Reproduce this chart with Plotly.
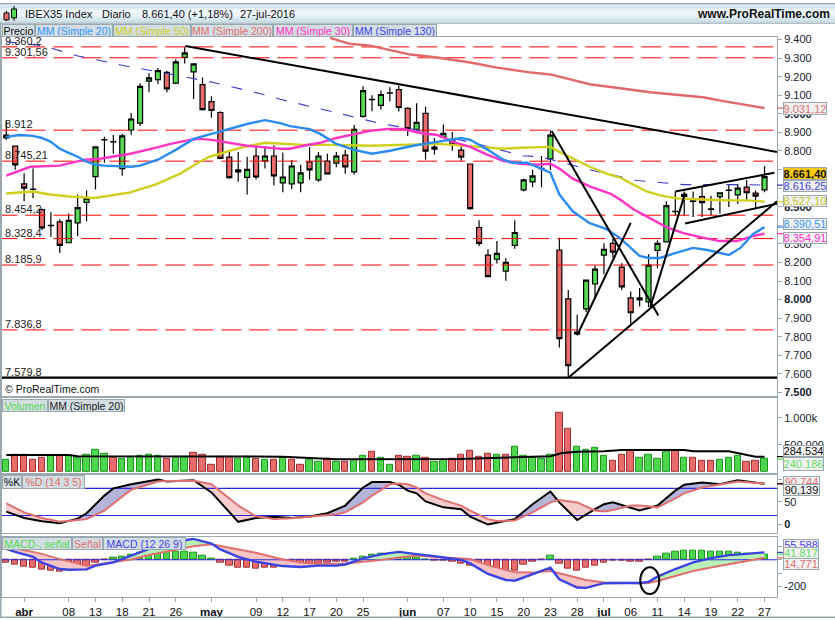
import plotly.graph_objects as go
from plotly.subplots import make_subplots

FONT = "Liberation Sans"
WIDTH, HEIGHT = 835, 620
GRID = "#9aa8b0"

# Candles, one row per session: 30-mar-2016 to 27-jul-2016
opens = [8870, 8826, 8623, 8595, 8484, 8398, 8418, 8306, 8413, 8523, 8662, 8859, 8851, 8705, 8913, 8950, 9176, 9184, 9223, 9165, 9304, 9226, 9157, 9066, 9007, 8767, 8698, 8658, 8773, 8747, 8773, 8628, 8623, 8628, 8741, 8644, 8746, 8735, 8778, 8687, 8986, 9078, 9045, 9111, 9130, 9029, 8917, 9002, 8810, 8874, 8863, 8805, 8730, 8388, 8239, 8217, 8153, 8292, 8591, 8634, 8705, 8757, 8267, 8004, 7815, 7950, 8084, 8239, 8303, 8175, 8009, 7998, 7988, 8265, 8311, 8473, 8555, 8531, 8554, 8488, 8554, 8588, 8564, 8605, 8573, 8591]
highs = [8966, 8826, 8680, 8706, 8491, 8470, 8432, 8464, 8566, 8587, 8822, 8876, 8886, 8893, 9004, 9164, 9219, 9246, 9232, 9294, 9360, 9269, 9196, 9094, 9014, 8795, 8795, 8769, 8834, 8822, 8831, 8790, 8751, 8726, 8822, 8795, 8785, 8795, 8806, 8940, 9148, 9100, 9125, 9143, 9152, 9036, 9057, 9039, 8870, 8943, 8902, 8826, 8731, 8427, 8271, 8315, 8223, 8427, 8651, 8699, 8773, 8911, 8333, 8052, 7920, 8105, 8182, 8303, 8326, 8196, 8043, 8062, 8244, 8320, 8529, 8582, 8582, 8582, 8609, 8559, 8575, 8618, 8623, 8644, 8587, 8719]
lows = [8860, 8699, 8529, 8546, 8374, 8338, 8251, 8306, 8342, 8422, 8593, 8737, 8785, 8667, 8888, 8934, 9116, 9160, 9116, 9160, 9271, 9080, 9023, 8979, 8758, 8651, 8635, 8566, 8646, 8706, 8614, 8578, 8594, 8578, 8646, 8635, 8673, 8712, 8678, 8673, 8979, 9014, 9023, 9066, 9013, 8881, 8911, 8754, 8781, 8874, 8801, 8747, 8484, 8288, 8124, 8194, 8101, 8274, 8582, 8605, 8605, 8698, 7742, 7580, 7808, 7932, 8005, 8137, 8226, 8052, 7870, 7963, 7959, 8169, 8311, 8452, 8452, 8445, 8445, 8452, 8463, 8498, 8516, 8529, 8493, 8578]
closes = [8885, 8725, 8600, 8593, 8386, 8400, 8292, 8426, 8495, 8546, 8822, 8861, 8849, 8881, 8972, 9148, 9194, 9232, 9134, 9280, 9328, 9269, 9023, 9018, 8760, 8657, 8687, 8701, 8660, 8773, 8666, 8660, 8719, 8682, 8698, 8773, 8676, 8773, 8714, 8917, 9125, 9076, 9104, 9113, 9034, 8920, 8954, 8799, 8821, 8895, 8834, 8767, 8490, 8303, 8124, 8249, 8201, 8361, 8644, 8666, 8707, 8885, 7790, 7644, 7825, 8105, 8164, 8271, 8255, 8068, 7929, 8009, 8185, 8303, 8506, 8475, 8566, 8529, 8522, 8486, 8575, 8590, 8600, 8575, 8557, 8661.4]

# Moving averages, read at their visible bends: (session index, value)
ma20_x = [0, 1.5, 3, 4, 5, 6, 7, 8, 9, 10, 11, 13, 14, 15, 17, 19, 21, 23, 25, 27, 29, 30.7, 31.8, 34, 35.2, 37, 39, 41, 43, 45.6, 48.3, 51, 52, 54, 55.7, 56.8, 58.4, 59.8, 61, 62, 63.5, 65.4, 67.3, 68.8, 70, 71, 72, 73.3, 74.7, 77, 78.6, 80, 81, 82.3, 83.7, 85]
ma20_y = [8876, 8886, 8881, 8870, 8849, 8812, 8790, 8769, 8742, 8726, 8721, 8715, 8715, 8721, 8753, 8806, 8865, 8892, 8918, 8945, 8966, 8950, 8934, 8918, 8892, 8838, 8806, 8785, 8801, 8828, 8849, 8870, 8860, 8806, 8753, 8737, 8737, 8710, 8683, 8566, 8475, 8411, 8379, 8331, 8278, 8235, 8224, 8224, 8246, 8278, 8267, 8251, 8240, 8278, 8352, 8390.51]
ma30_x = [0, 2.7, 6, 8.8, 10.5, 13.9, 16.7, 18.4, 20.6, 21.7, 23, 25, 27, 30.7, 31.8, 33.3, 35.2, 37, 39, 40.8, 42.7, 44.5, 46.4, 48.3, 50.1, 52, 53.9, 55.7, 57.6, 59.5, 61, 62, 63.5, 65.4, 67.7, 68.8, 70.3, 72.2, 74, 75.9, 77.8, 80, 81.9, 83.7, 85]
ma30_y = [8667, 8715, 8721, 8753, 8758, 8785, 8817, 8838, 8860, 8865, 8860, 8844, 8828, 8812, 8812, 8828, 8844, 8870, 8892, 8908, 8918, 8918, 8897, 8886, 8849, 8822, 8780, 8747, 8731, 8726, 8731, 8705, 8651, 8609, 8571, 8539, 8486, 8438, 8390, 8358, 8336, 8315, 8315, 8342, 8354.91]
ma50_x = [0, 3, 4.9, 7.1, 9.9, 13.9, 16.7, 19.5, 21.7, 22.8, 26.2, 29, 33.3, 37, 40.8, 44.5, 48.3, 50.1, 52.8, 55.7, 57.6, 61, 62, 63.5, 65.4, 67.3, 68.8, 70.3, 71.8, 73.3, 75.2, 78.1, 80.8, 83, 85]
ma50_y = [8571, 8582, 8566, 8555, 8547, 8577, 8619, 8678, 8742, 8769, 8817, 8844, 8833, 8833, 8828, 8833, 8838, 8833, 8822, 8812, 8817, 8822, 8795, 8758, 8715, 8678, 8657, 8619, 8582, 8561, 8545, 8539, 8534, 8534, 8527.1]
ma200_x = [36.3, 38.5, 40.8, 45.3, 48.3, 52, 55, 58.7, 61, 65.4, 72.2, 75.5, 78.1, 80.4, 85]
ma200_y = [9409, 9377, 9367, 9319, 9303, 9276, 9249, 9223, 9212, 9159, 9116, 9100, 9089, 9068, 9031.12]
ma130_x = [0, 4.1, 7.9, 13.1, 18, 23.2, 29.2, 30.7, 34.4, 37.1, 39.7, 42.2, 44.9, 52.8, 57.9, 59.8, 62, 65.4, 70.7, 73, 75.9, 82.3, 85]
ma130_y = [9388, 9367, 9313, 9260, 9217, 9169, 9100, 9078, 9036, 9004, 8972, 8945, 8924, 8838, 8774, 8769, 8742, 8699, 8641, 8630, 8619, 8619, 8616.25]

# Horizontal levels and hand drawn trend lines
levels = [9360.2, 9301.56, 8912, 8745.21, 8454.2, 8328.4, 8185.9, 7836.8]
level_labels = ["9.360,2", "9.301,56", "8.912", "8.745,21", "8.454,2", "8.328,4", "8.185,9", "7.836,8"]
support_level = 7579.8
support_label = "7.579,8"
trend_lines = [
    ([20.07, 86.4], [9365, 8795]),
    ([61.14, 73.1], [8908, 7915]),
    ([64, 70], [7808, 8413]),
    ([63.1, 86.4], [7583, 8529]),
    ([72.2, 76.1], [7959, 8573]),
    ([75, 86.1], [8582, 8683]),
    ([76.1, 86.4], [8410, 8516]),
]

# Volume, in thousands, with the direction of each bar
volumes = [224, 321, 321, 224, 273, 297, 297, 297, 273, 327, 418, 345, 273, 242, 291, 309, 327, 309, 242, 291, 291, 364, 327, 145, 291, 291, 242, 279, 255, 224, 224, 261, 224, 133, 230, 200, 248, 182, 182, 230, 309, 382, 273, 133, 309, 279, 309, 273, 182, 224, 255, 327, 400, 291, 345, 327, 327, 473, 309, 273, 255, 327, 1091, 788, 473, 418, 455, 309, 218, 327, 400, 273, 327, 255, 382, 400, 273, 273, 218, 218, 236, 273, 309, 182, 218, 240.186]
volume_dirs = "GRRRRGRGGGGGRGGGGGRGGRRRRRGGRGRGRRGGRGRGGRGGRRGRGGRRRRRGRGGGGGRRGGGGRRRGGGGRGRRRGGGRRG"
vol_ma_x = [0, 7, 8, 12, 23, 31, 37, 47, 50.7, 57, 61, 62.3, 64, 67, 69, 76, 77, 81, 83, 84, 85]
vol_ma_y = [315, 315, 291, 291, 297, 285, 236, 236, 242, 273, 291, 351, 376, 382, 406, 406, 382, 382, 315, 285, 284.534]

# Stochastic %K / %D
stoch_x = [0, 2, 4, 6, 8, 9, 11, 12, 14, 16, 17, 18, 21, 23, 26, 28, 30, 32, 34, 36, 37, 38, 40, 41, 43, 44, 45, 46, 47, 49, 51, 52, 54, 55, 57, 59, 61, 62, 64, 66, 67, 68, 70, 71, 73, 75, 76, 78, 80, 82, 85]
stoch_k = [28.5, 14.6, 7.3, 3, 13, 25, 64, 80, 89, 96.5, 99.4, 95, 98, 71, 6, 14.6, 17.5, 14.6, 18, 25, 34, 42, 82, 94, 94, 88, 75, 69, 51, 38, 34, 17.5, 0, 4, 12, 45, 73, 49, 10, 34, 45, 49, 37, 31, 42, 75, 88, 93, 89, 98, 90.139]
stoch_d = [46.8, 27, 14.6, 6, 10, 12, 31, 47, 77, 89, 95, 96.5, 97, 89, 42, 18, 12.4, 14, 17, 20, 23, 27, 49, 64, 89, 91, 89, 82, 69, 54, 42, 31, 12, 8, 9, 27, 49, 54, 49, 31, 29, 32, 42, 42, 38, 58, 69, 82, 89, 95, 90.744]

# MACD, signal and histogram
macd_x = [0, 1, 3, 4, 6, 7, 9, 10, 12, 14, 16, 20, 21, 23, 24, 26, 28, 31, 33, 35, 37, 38, 40, 42, 44, 46, 48, 51, 52, 54, 56, 57, 59, 61, 62, 64, 65, 67, 69, 71, 72, 73, 75, 77, 79, 81, 83, 85]
macd_line = [82, 59, 22, -22, -69, -74, -72, -44, -20, 30, 82, 146, 156, 121, 77, 22, -15, -47, -54, -44, -44, -35, 10, 40, 59, 42, 27, -2, -27, -106, -151, -156, -106, -59, -146, -207, -210, -175, -173, -173, -165, -126, -69, -20, 12, 35, 44, 55.588]
signal_line = [101, 84, 59, 44, 5, -10, -44, -37, -15, 2, 35, 89, 101, 116, 104, 79, 52, 2, -20, -32, -32, -27, -15, -2, 17, 32, 20, 12, 5, -40, -77, -94, -96, -84, -101, -133, -151, -170, -175, -175, -173, -158, -121, -84, -57, -32, -7, 14.771]
histogram = [-25, -40, -54, -62, -77, -84, -91, -69, -69, -54, -25, -2, 15, 22, 40, 52, 62, 67, 69, 62, 59, 52, 30, 10, -25, -47, -62, -62, -69, -62, -62, -52, -44, -47, -37, -27, -20, -17, -15, 5, 22, 35, 42, 47, 37, 25, 17, 1, -10, -10, -15, -27, -42, -52, -89, -94, -94, -79, -40, -17, -2, 30, -32, -69, -84, -62, -47, -22, -7, -7, -15, -15, -1, 22, 44, 59, 69, 69, 69, 59, 59, 59, 52, 42, 42, 37]
macd_circle_x = [71.07, 73.2]
macd_circle_y = [-56, -256]

# Bottom axis
date_ticks = [2, 7, 10, 13, 16, 19, 23, 28, 31, 34, 37, 40, 45, 49, 52, 55, 58, 61, 64, 67, 70, 73, 76, 79, 82, 85]
date_labels = ["<b>abr</b>", "08", "13", "18", "21", "26", "<b>may</b>", "09", "12", "17", "20", "25", "<b>jun</b>", "07", "10", "15", "20", "23", "28", "<b>jul</b>", "06", "11", "14", "19", "22", "27"]
price_ticks = [7500, 7600, 7700, 7800, 7900, 8000, 8100, 8200, 8300, 8400, 8500, 8600, 8700, 8800, 8900, 9000, 9100, 9200, 9300, 9400]
# 8.400, 8.600 and 8.700 sit fully behind the last-value boxes, so only their tick is left
price_labels = ["<b>7.500</b>", "7.600", "7.700", "7.800", "7.900", "<b>8.000</b>", "8.100", "8.200", "8.300", "", "<b>8.500</b>", "", "", "8.800", "8.900", "<b>9.000</b>", "9.100", "9.200", "9.300", "9.400"]

session = list(range(len(closes)))


def fx(px):
    return px / WIDTH


def fy(px):
    return 1 - px / HEIGHT


def fill_between(fig, x, a, b, above, below, row):
    """Shade between two lines, changing colour where they cross"""
    xs, ya, yb = [x[0]], [a[0]], [b[0]]
    for i in range(1, len(x)):
        d0, d1 = a[i - 1] - b[i - 1], a[i] - b[i]
        if d0 * d1 < 0:
            t = d0 / (d0 - d1)
            cross = a[i - 1] + t * (a[i] - a[i - 1])
            xs.append(x[i - 1] + t * (x[i] - x[i - 1]))
            ya.append(cross)
            yb.append(cross)
            fig.add_trace(
                go.Scatter(
                    x=xs + xs[::-1],
                    y=ya + yb[::-1],
                    fill="toself",
                    mode="none",
                    fillcolor=above if d0 > 0 else below,
                ),
                row=row,
                col=1,
            )
            xs, ya, yb = [xs[-1]], [cross], [cross]
        xs.append(x[i])
        ya.append(a[i])
        yb.append(b[i])
    fig.add_trace(
        go.Scatter(
            x=xs + xs[::-1],
            y=ya + yb[::-1],
            fill="toself",
            mode="none",
            fillcolor=above if a[-1] > b[-1] else below,
        ),
        row=row,
        col=1,
    )


def add_line(fig, x, y, color, width, row, dash=None):
    fig.add_trace(
        go.Scatter(x=x, y=y, mode="lines", line=dict(color=color, width=width, dash=dash)),
        row=row,
        col=1,
    )


fig = make_subplots(rows=4, cols=1, shared_xaxes=True, vertical_spacing=0)

# Price panel
fig.add_trace(
    go.Candlestick(
        x=session,
        open=opens,
        high=highs,
        low=lows,
        close=closes,
        whiskerwidth=0,
        increasing=dict(line=dict(color="#000000", width=1.2), fillcolor="#55d855"),
        decreasing=dict(line=dict(color="#000000", width=1.2), fillcolor="#e86c6c"),
    ),
    row=1,
    col=1,
)
for level in levels:
    add_line(fig, [-1, 88], [level, level], "#ff0000", 1, 1, dash="20px,8px")
add_line(fig, [-1, 88], [support_level, support_level], "#000000", 2.2, 1)
add_line(fig, ma130_x, ma130_y, "#3a3ac8", 1.1, 1, dash="11px,12px")
add_line(fig, ma200_x, ma200_y, "#e06a6a", 2.4, 1)
add_line(fig, ma50_x, ma50_y, "#cfcf1e", 2.4, 1)
add_line(fig, ma30_x, ma30_y, "#ff33c4", 2.4, 1)
add_line(fig, ma20_x, ma20_y, "#2a8cf0", 2.4, 1)
for line_x, line_y in trend_lines:
    add_line(fig, line_x, line_y, "#000000", 2, 1)

# Volume panel
fig.add_trace(
    go.Bar(
        x=session,
        y=volumes,
        width=0.72,
        marker=dict(
            color=["#4fd64f" if d == "G" else "#e86c6c" for d in volume_dirs],
            line=dict(color=["#1c941c" if d == "G" else "#a03030" for d in volume_dirs], width=1),
        ),
    ),
    row=2,
    col=1,
)
add_line(fig, vol_ma_x, vol_ma_y, "#000000", 2, 2)

# Stochastic panel
fill_between(fig, stoch_x, stoch_k, stoch_d, "#b4b4d8", "#f6cccc", 3)
for level in [20, 80]:
    add_line(fig, [-1, 88], [level, level], "#2a2ad8", 1.1, 3)
add_line(fig, stoch_x, stoch_k, "#000000", 2, 3)
add_line(fig, stoch_x, stoch_d, "#e07070", 2, 3)

# MACD panel
fig.add_trace(
    go.Bar(
        x=session,
        y=histogram,
        width=0.72,
        marker=dict(
            color=["#4fd64f" if h > 0 else "#e86c6c" for h in histogram],
            line=dict(color=["#1c941c" if h > 0 else "#a03030" for h in histogram], width=1),
        ),
    ),
    row=4,
    col=1,
)
fill_between(fig, macd_x, macd_line, signal_line, "#b8f0b8", "#f6c4c4", 4)
add_line(fig, [-1, 88], [0, 0], "#2a2ad8", 1.1, 4)
add_line(fig, macd_x, signal_line, "#e07070", 2, 4)
add_line(fig, macd_x, macd_line, "#3a44e0", 2.4, 4)

shapes = [
    dict(type="circle", xref="x4", yref="y4", x0=macd_circle_x[0], x1=macd_circle_x[1],
         y0=macd_circle_y[0], y1=macd_circle_y[1], line=dict(color="#000000", width=2)),
]


def paper_rect(x0, x1, y0, y1, fill, line=None):
    return dict(type="rect", xref="paper", yref="paper", x0=fx(x0), x1=fx(x1), y0=fy(y0), y1=fy(y1),
                fillcolor=fill, line=dict(color=line or fill, width=1 if line else 0), layer="above")


# Title bar, stepped to look like the gradient
band_colors = ["#c6dbe6", "#d6e6ee", "#e4eff5", "#eef5f9", "#eef5f9", "#e4eff5", "#d6e6ee", "#c9dce6"]
for k, band in enumerate(band_colors):
    shapes.append(paper_rect(0, WIDTH, k * 2.5, (k + 1) * 2.5, band))
shapes.append(paper_rect(0, WIDTH, 0, 1, GRID))
shapes.append(paper_rect(0, WIDTH, 20, 21, GRID))
shapes.append(paper_rect(0, 1.5, 20, HEIGHT, GRID))
shapes.append(paper_rect(0, WIDTH, HEIGHT - 1.5, HEIGHT, GRID))

# Little candles in the corner of the title bar
for cx, wick, body0, body1, fill in [(6.5, (8, 18), 10, 17, "#e86c6c"), (14, (3, 18), 6, 15, "#55d855")]:
    shapes.append(dict(type="line", xref="paper", yref="paper", x0=fx(cx), x1=fx(cx), y0=fy(wick[0]), y1=fy(wick[1]),
                       line=dict(color="#000000", width=1), layer="above"))
    shapes.append(paper_rect(cx - 2.5, cx + 2.5, body0, body1, fill, "#000000"))

# Short coloured marks next to the last values on the right axis
end_marks = [
    ("y", 9031.12, "#e06a6a"), ("y", 8616.25, "#3a3ac8"), ("y", 8527.1, "#cfcf1e"), ("y", 8390.51, "#2a8cf0"),
    ("y", 8354.91, "#ff33c4"), ("y2", 284.534, "#000000"), ("y2", 240.186, "#4fd64f"), ("y3", 90.744, "#e07070"),
    ("y3", 90.139, "#000000"), ("y4", 55.588, "#3a44e0"), ("y4", 41.817, "#4fd64f"), ("y4", 14.771, "#e07070"),
]
for yref, value, color in end_marks:
    shapes.append(dict(type="line", xref="paper", yref=yref, x0=fx(777), x1=fx(783), y0=value, y1=value,
                       line=dict(color=color, width=1.3), layer="above"))

annotations = []


def text(x, y, label, color="#111111", size=11, anchor="left"):
    annotations.append(dict(xref="paper", yref="paper", x=fx(x), y=fy(y), text=label, showarrow=False, xanchor=anchor,
                            yanchor="middle", font=dict(family=FONT, size=size, color=color)))


def chip(x0, x1, y0, y1, label, color, bg="#d3dde2", size=10.5):
    annotations.append(dict(xref="paper", yref="paper", x=fx((x0 + x1) / 2), y=fy((y0 + y1) / 2), text=label,
                            showarrow=False, xanchor="center", yanchor="middle", width=x1 - x0 - 2, height=y1 - y0 - 2,
                            borderwidth=1, borderpad=0, bordercolor=GRID, bgcolor=bg,
                            font=dict(family=FONT, size=size, color=color)))


# Level labels sit just above their lines
for level, label in zip(levels + [support_level], level_labels + [support_label]):
    annotations.append(dict(xref="paper", yref="y", x=fx(3), y=level, text=label, showarrow=False, xanchor="left",
                            yanchor="bottom", yshift=-2, font=dict(family=FONT, size=11, color="#222222")))

text(23, 11, "IBEX35 Index", size=11)
text(100, 11, "Diario", size=11)
text(140, 11, "8.661,40 (+1,18%)", size=11)
text(238, 11, "27-jul-2016", size=11)
text(832, 11, "<b>www.ProRealTime.com</b>", size=12, anchor="right")
text(3, 389, "© ProRealTime.com", size=10.5)

chip(2, 35, 21, 34, "Precio", "#111111")
chip(35, 113, 21, 34, "MM (Simple 20)", "#3399ff")
chip(113, 191, 21, 34, "MM (Simple 50)", "#cfcf1e")
chip(191, 273, 21, 34, "MM (Simple 200)", "#e07070")
chip(273, 353, 21, 34, "MM (Simple 30)", "#ff33c4")
chip(353, 437, 21, 34, "MM (Simple 130)", "#4444ee")
chip(2, 48, 399, 412, "Volumen", "#55d855")
chip(48, 125, 399, 412, "MM (Simple 20)", "#222222")
chip(2, 22, 476, 490, "%K", "#111111")
chip(22, 85, 476, 490, "%D (14 3 5)", "#e07070")
chip(2, 72, 538, 551, "MACD-, señal", "#55d855")
chip(72, 103, 538, 551, "Señal", "#e07070")
chip(103, 186, 538, 551, "MACD (12 26 9)", "#4444ee")

VALUE_BG = "#f0f0f0"
chip(783, 827, 100, 113, "9.031,12", "#e07070", VALUE_BG, 11)
chip(783, 827, 165, 178, "<b>8.661,40</b>", "#111111", "#f8c810", 11)
chip(783, 827, 178, 190, "8.616,25", "#4444dd", VALUE_BG, 11)
chip(783, 827, 194, 206, "8.527,10", "#c8c81e", VALUE_BG, 11)
chip(783, 827, 217, 229, "8.390,51", "#3399ff", VALUE_BG, 11)
chip(783, 827, 231, 243, "8.354,91", "#ff33c4", VALUE_BG, 11)
chip(783, 824, 446, 458, "284.534", "#111111", VALUE_BG, 11)
chip(783, 824, 458, 472, "240.186", "#66dd66", VALUE_BG, 11)
chip(783, 820, 477, 489, "90,744", "#e07070", VALUE_BG, 11)
chip(783, 820, 485, 497, "90,139", "#111111", VALUE_BG, 11)
chip(783, 819, 540, 552, "55.588", "#4444ee", VALUE_BG, 11)
chip(783, 819, 548, 560, "41.817", "#66dd66", VALUE_BG, 11)
chip(783, 819, 560, 572, "14,771", "#e07070", VALUE_BG, 11)

fig.update_layout(
    width=WIDTH,
    height=HEIGHT,
    margin=dict(l=0, r=0, t=0, b=0),
    paper_bgcolor="#ffffff",
    plot_bgcolor="#ffffff",
    showlegend=False,
    hovermode=False,
    bargap=0,
    boxgap=0.2,
    shapes=shapes,
    annotations=annotations,
)

# Every panel shares the same session scale
fig.update_xaxes(
    range=[-0.48, 86.4],
    domain=[fx(2), fx(777)],
    showgrid=False,
    zeroline=False,
    showline=True,
    mirror=True,
    linecolor=GRID,
    linewidth=1,
    showticklabels=False,
    ticks="",
    rangeslider=dict(visible=False),
)
fig.update_xaxes(
    row=4,
    col=1,
    tickmode="array",
    tickvals=date_ticks,
    ticktext=date_labels,
    ticks="outside",
    ticklen=4,
    tickcolor=GRID,
    showticklabels=True,
    tickangle=0,
    tickfont=dict(family=FONT, size=11.5, color="#111111"),
)

axis_style = dict(
    side="right",
    showgrid=False,
    zeroline=False,
    showline=True,
    mirror=True,
    linecolor=GRID,
    linewidth=1,
    ticks="outside",
    ticklen=4,
    tickcolor=GRID,
    tickmode="array",
    tickfont=dict(family=FONT, size=11, color="#16202c"),
)
fig.update_yaxes(domain=[fy(396), fy(34)], range=[7482, 9415], tickvals=price_ticks, ticktext=price_labels, row=1, col=1, **axis_style)
fig.update_yaxes(domain=[fy(474), fy(398)], range=[-18, 1364], tickvals=[500, 1000], ticktext=["500.000", "1.000k"], row=2, col=1, **axis_style)
fig.update_yaxes(domain=[fy(534), fy(476)], range=[-18, 109.2], tickvals=[0, 50, 100], ticktext=["<b>0</b>", "50", ""], row=3, col=1, **axis_style)
fig.update_yaxes(domain=[fy(599), fy(538)], range=[-279.3, 172.6], tickvals=[-200, -100, 0, 100], ticktext=["-200", "", "", ""], row=4, col=1, **axis_style)

fig.write_html("out.html", config=dict(displayModeBar=False), post_script="document.body.style.margin='0';")
